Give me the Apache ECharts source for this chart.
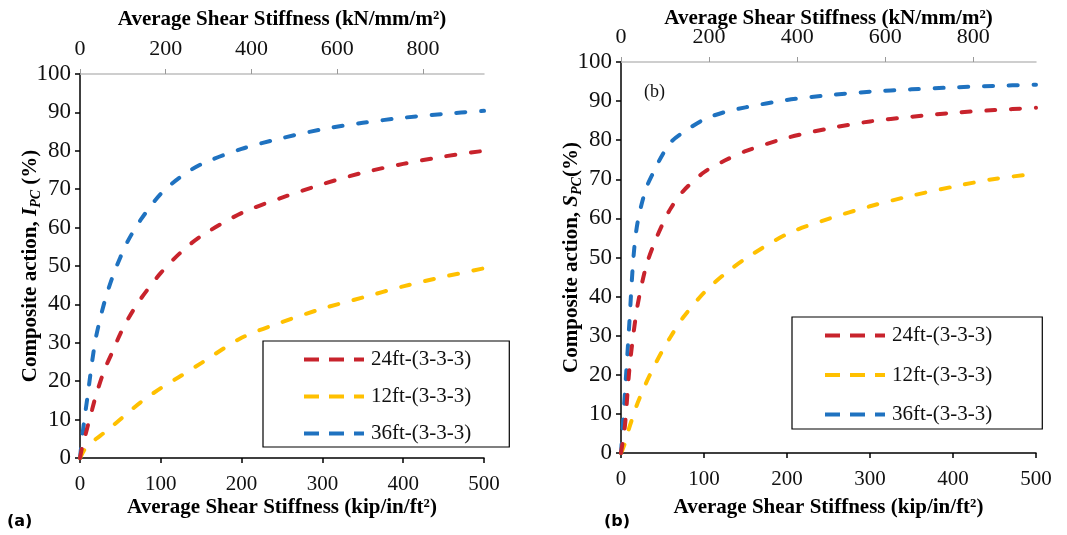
<!DOCTYPE html>
<html>
<head>
<meta charset="utf-8">
<title>Composite action vs average shear stiffness</title>
<script src="https://cdn.jsdelivr.net/npm/echarts@6/dist/echarts.min.js"></script>
<style>
  html, body { margin: 0; padding: 0; background: #fff; }
  #chart { width: 1067px; height: 535px; }
</style>
</head>
<body>
<div id="chart"></div>
<script>
// average shear stiffness, kip/in/ft2 (bottom axis)
var stiffness = [0, 2.5, 5, 10, 15, 20, 30, 40, 50, 60, 75, 100, 125, 150, 200, 250, 300, 350, 400, 450, 500]

// (a) composite action I_PC (%)
var ipc24 = [0, 2.7, 4.6, 8.7, 12.6, 16.5, 22.8, 27.6, 32.4, 36.4, 41.4, 48.2, 53.6, 57.8, 63.8, 67.8, 71.3, 74.3, 76.6, 78.5, 80.0]
var ipc12 = [0, 1.0, 2.0, 3.3, 4.1, 5.0, 6.6, 8.3, 10.1, 11.9, 14.5, 18.2, 21.4, 24.7, 31.3, 35.4, 38.9, 41.8, 44.7, 47.2, 49.4]
var ipc36 = [0, 5.0, 9.3, 17.1, 25.1, 31.7, 40.4, 47.0, 52.3, 56.8, 62.0, 68.8, 73.3, 76.5, 80.5, 83.3, 85.6, 87.3, 88.6, 89.6, 90.4]

// (b) composite action S_PC (%)
var spc24 = [0, 3.5, 7.5, 21.2, 30.5, 37.8, 47.6, 53.6, 58.5, 62.6, 67.0, 71.8, 74.8, 77.2, 80.6, 83.0, 84.8, 86.0, 87.0, 87.7, 88.3]
var spc12 = [0, 1.2, 2.7, 6.5, 9.7, 12.8, 17.8, 22.2, 26.2, 29.8, 34.7, 41.0, 45.8, 49.7, 56.0, 59.9, 63.1, 65.8, 68.1, 70.1, 71.4]
var spc36 = [0, 8.0, 16.2, 33.0, 50.0, 59.0, 67.5, 72.2, 76.3, 79.5, 82.0, 85.3, 87.2, 88.4, 90.3, 91.5, 92.4, 93.0, 93.5, 93.9, 94.2]

var seriesNames = ['24ft-(3-3-3)', '12ft-(3-3-3)', '36ft-(3-3-3)']
var seriesColors = ['#c8232c', '#ffc000', '#1f72c0']

// top axis: same stiffness in kN/mm/m2
var kipToKN = 1.885
var kNTicks = [0, 200, 400, 600, 800]

var serif = 'Liberation Serif'

function pairs(ys) {
  return stiffness.map(function (x, i) { return [x, ys[i]] })
}

function bottomAxis(grid) {
  return {
    type: 'value', gridIndex: grid, position: 'bottom',
    min: 0, max: 500, interval: 100,
    name: 'Average Shear Stiffness (kip/in/ft²)',
    nameLocation: 'middle', nameGap: grid === 0 ? 39 : 44, nameMoveOverlap: false,
    nameTextStyle: { fontFamily: serif, fontWeight: 'bold', fontSize: 21, color: '#000' },
    axisLine: { lineStyle: { color: '#000', width: 1.5 } },
    axisTick: { inside: false, length: 5, lineStyle: { color: '#000', width: 1.5 } },
    axisLabel: { margin: 16, fontFamily: serif, fontSize: 21, color: '#111' },
    splitLine: { show: false }
  }
}

function topAxis(grid) {
  return {
    type: 'value', gridIndex: grid, position: 'top',
    min: 0, max: 500 * kipToKN,
    name: 'Average Shear Stiffness (kN/mm/m²)',
    nameLocation: 'middle', nameGap: grid === 0 ? 44 : 33, nameMoveOverlap: false,
    nameTextStyle: { fontFamily: serif, fontWeight: 'bold', fontSize: 21, color: '#000' },
    axisLine: { lineStyle: { color: '#bfbfbf', width: 1.5 } },
    axisTick: { inside: false, length: 5, customValues: kNTicks, lineStyle: { color: '#999', width: 1 } },
    axisLabel: { margin: grid === 0 ? 14 : 14, customValues: kNTicks, fontFamily: serif, fontSize: 22, color: '#111' },
    splitLine: { show: false }
  }
}

function leftAxis(grid, letter) {
  return {
    type: 'value', gridIndex: grid,
    min: 0, max: 100, interval: 10,
    name: '{a|Composite action, }{i|' + letter + '}{s|PC}{a|' + (grid === 0 ? ' ' : '') + '(%)}',
    nameLocation: 'middle', nameGap: 37, nameMoveOverlap: false,
    nameTextStyle: {
      rich: {
        a: { fontFamily: serif, fontWeight: 'bold', fontSize: 21, color: '#000', lineHeight: 24 },
        i: { fontFamily: serif, fontWeight: 'bold', fontStyle: 'italic', fontSize: 21, color: '#000', lineHeight: 24 },
        s: { fontFamily: serif, fontWeight: 'bold', fontStyle: 'italic', fontSize: 14, color: '#000', lineHeight: 24, verticalAlign: 'bottom', padding: [8, 0, 0, 0] }
      }
    },
    axisLine: { show: true, lineStyle: { color: '#000', width: 1.5 } },
    axisTick: { show: true, inside: false, length: 5, lineStyle: { color: '#000', width: 1.5 } },
    axisLabel: { margin: 9, fontFamily: serif, fontSize: 23, color: '#111' },
    splitLine: { show: false }
  }
}

function makeSeries(grid, values) {
  return values.map(function (ys, k) {
    return {
      name: seriesNames[k], type: 'line',
      xAxisIndex: grid * 2, yAxisIndex: grid,
      data: pairs(ys),
      showSymbol: false, symbol: 'none',
      smooth: 0.3,
      color: seriesColors[k],
      lineStyle: { color: seriesColors[k], width: 4, type: [9, 15.7], cap: 'round' },
      z: 3 - k
    }
  })
}

function makeLegend(box) {
  return {
    orient: 'vertical', left: box.left, top: box.top,
    padding: box.padding, itemGap: box.gap,
    itemWidth: 60, itemHeight: 20,
    borderColor: '#000', borderWidth: 1.2, backgroundColor: '#fff',
    data: seriesNames,
    itemStyle: { opacity: 0 },
    lineStyle: { width: 4, type: [15, 10], cap: 'butt' },
    textStyle: { fontFamily: serif, fontSize: 21, color: '#111', padding: [0, 0, 0, 2] }
  }
}

var chart = echarts.init(document.getElementById('chart'))

chart.setOption({
  animation: false,
  backgroundColor: '#fff',
  grid: [
    { left: 80, top: 74, width: 404, height: 384 },
    { left: 621, top: 62, width: 415, height: 391 }
  ],
  xAxis: [bottomAxis(0), topAxis(0), bottomAxis(1), topAxis(1)],
  yAxis: [leftAxis(0, 'I'), leftAxis(1, 'S')],
  legend: [
    makeLegend({ left: 263, top: 341, padding: [8, 38, 3, 39], gap: 16 }),
    makeLegend({ left: 792, top: 317, padding: [8, 50, 4, 31], gap: 18.5 })
  ],
  graphic: [
    { type: 'text', left: 7, top: 514, style: { text: '(a)', fontFamily: 'DejaVu Sans', fontWeight: 'bold', fontSize: 16, fill: '#000' } },
    { type: 'text', left: 604, top: 514, style: { text: '(b)', fontFamily: 'DejaVu Sans', fontWeight: 'bold', fontSize: 16, fill: '#000' } },
    { type: 'text', left: 644, top: 83, style: { text: '(b)', fontFamily: serif, fontSize: 18, fill: '#111' } }
  ],
  series: makeSeries(0, [ipc24, ipc12, ipc36]).concat(makeSeries(1, [spc24, spc12, spc36]))
})
</script>
</body>
</html>
